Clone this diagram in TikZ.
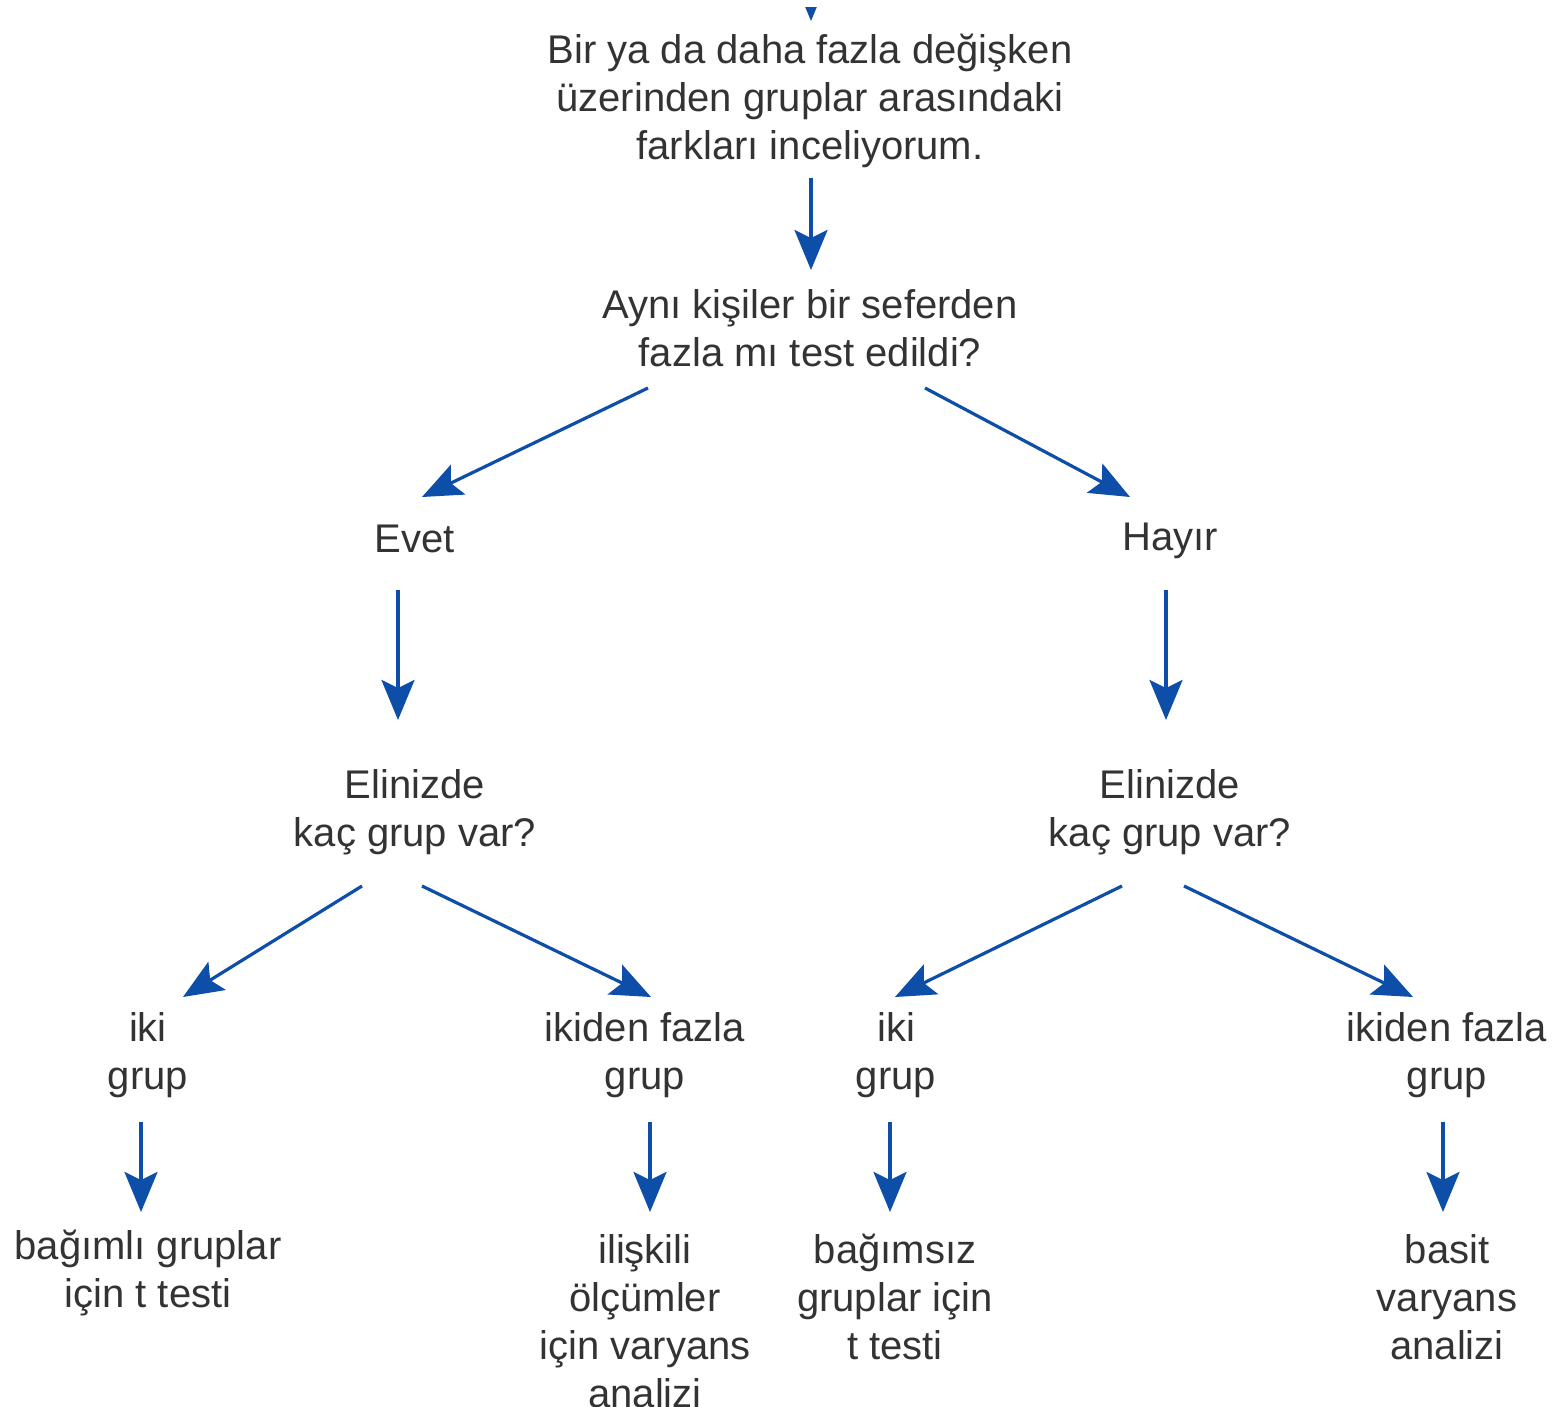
\documentclass[tikz,border=0pt]{standalone}
\usepackage{fontspec}
\setmainfont{Liberation Sans}
\usetikzlibrary{arrows.meta,calc}
\definecolor{arrblue}{HTML}{0D4FA8}
\definecolor{txtgray}{HTML}{333333}
\begin{document}
\begin{tikzpicture}[x=0.5pt,y=-0.5pt,
  lbl/.style={align=center,inner sep=0pt,text=txtgray,font=\fontsize{20}{24}\selectfont},
  arr/.style={draw=arrblue,line width=1.6pt,-{Stealth[length=20pt,width=16.5pt,inset=4pt]}}]
\useasboundingbox (0,0) rectangle (1554,1407);
\node[lbl] (top) at (810,101) {Bir ya da daha fazla değişken\\üzerinden gruplar arasındaki\\farkları inceliyorum.};
\node[lbl] (q2) at (810,328) {Aynı kişiler bir seferden\\fazla mı test edildi?};
\node[lbl] (evet) at (415,539) {Evet};
\node[lbl] (hayir) at (1170,541) {Hayır};
\node[lbl] (el1) at (415,812) {Elinizde\\kaç grup var?};
\node[lbl] (el2) at (1170,812) {Elinizde\\kaç grup var?};
\node[lbl] (iki1) at (148,1055) {iki\\grup};
\node[lbl] (faz1) at (645,1055) {ikiden fazla\\grup};
\node[lbl] (iki2) at (896,1055) {iki\\grup};
\node[lbl] (faz2) at (1447,1055) {ikiden fazla\\grup};
\node[lbl] (leaf1) at (148,1273) {bağımlı gruplar\\için t testi};
\node[lbl] (leaf2) at (645,1321) {ilişkili\\ölçümler\\için varyans\\analizi};
\node[lbl] (leaf3) at (895,1297) {bağımsız\\gruplar için\\t testi};
\node[lbl] (leaf4) at (1447,1297) {basit\\varyans\\analizi};
% stub at the top edge
\coordinate (stubstart) at (811,-70);
\coordinate (stubtip) at (811,21);
\begin{scope}
\clip (780,8) rectangle (840,40);
\draw[arr] (stubstart) -- (stubtip);
\end{scope}
% connectors
\draw[arr] ($(top)+(1,77)$) -- ($(q2)+(1,-58)$);
\draw[arr] ($(q2)+(-162,60)$) -- ($(evet)+(7,-42)$);
\draw[arr] ($(q2)+(115,60)$) -- ($(hayir)+(-40,-44)$);
\draw[arr] ($(evet)+(-17,51)$) -- ($(el1)+(-17,-92)$);
\draw[arr] ($(hayir)+(-4,49)$) -- ($(el2)+(-4,-92)$);
\draw[arr] ($(el1)+(-53,74)$) -- ($(iki1)+(35,-58)$);
\draw[arr] ($(el1)+(7,74)$) -- ($(faz1)+(6,-58)$);
\draw[arr] ($(el2)+(-48,74)$) -- ($(iki2)+(-1,-58)$);
\draw[arr] ($(el2)+(14,74)$) -- ($(faz2)+(-34,-58)$);
\draw[arr] ($(iki1)+(-7,67)$) -- ($(leaf1)+(-7,-61)$);
\draw[arr] ($(faz1)+(5,67)$) -- ($(leaf2)+(5,-109)$);
\draw[arr] ($(iki2)+(-6,67)$) -- ($(leaf3)+(-5,-85)$);
\draw[arr] ($(faz2)+(-4,67)$) -- ($(leaf4)+(-4,-85)$);
\end{tikzpicture}
\end{document}
